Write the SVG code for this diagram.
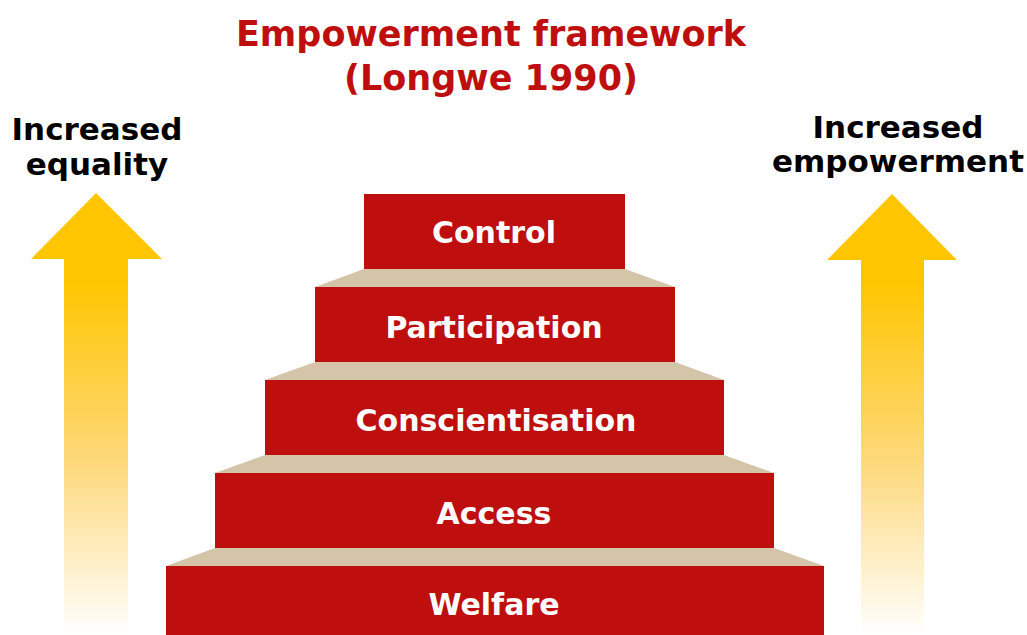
<svg xmlns="http://www.w3.org/2000/svg" width="1027" height="635" viewBox="0 0 1027 635">
<defs>
<linearGradient id="ag" x1="0" y1="0" x2="0" y2="1">
<stop offset="0" stop-color="#FFC600"/>
<stop offset="0.2" stop-color="#FFC600"/>
<stop offset="0.6" stop-color="#FDD878"/>
<stop offset="1" stop-color="#FFFFFF"/>
</linearGradient>
<style>
text{font-family:"DejaVu Sans","Verdana",sans-serif;font-weight:bold;text-anchor:middle}
.step{fill:#BE0E0E}
.tread{fill:#D4C4A8}
.lbl{fill:#FFFFFF;font-size:30px}
.side{fill:#000000;font-size:31px}
.title{fill:#BE0E0E;font-size:35px}
</style>
</defs>
<rect width="1027" height="635" fill="#FFFFFF"/>
<g id="title">
<text class="title" x="491" y="46">Empowerment framework</text>
<text class="title" x="491" y="90">(Longwe 1990)</text>
</g>
<g id="arrow-left">
<path d="M96,193 L162,259 L128,259 L128,635 L64,635 L64,259 L31,259 Z" fill="url(#ag)"/>
<text class="side" x="97" y="140">Increased</text>
<text class="side" x="97" y="175">equality</text>
</g>
<g id="arrow-right">
<path d="M892,194 L957,260 L924,260 L924,635 L861,635 L861,260 L827,260 Z" fill="url(#ag)"/>
<text class="side" x="898" y="138">Increased</text>
<text class="side" x="898" y="172">empowerment</text>
</g>
<g id="treads">
<polygon class="tread" points="364,269 625,269 675,287 315,287"/>
<polygon class="tread" points="315,362 675,362 724,380 265,380"/>
<polygon class="tread" points="265,455 724,455 774,473 215,473"/>
<polygon class="tread" points="215,548 774,548 824,566 166,566"/>
</g>
<g id="control">
<rect class="step" x="364" y="194" width="261" height="75"/>
<text class="lbl" x="494" y="243">Control</text>
</g>
<g id="participation">
<rect class="step" x="315" y="287" width="360" height="75"/>
<text class="lbl" x="494" y="338">Participation</text>
</g>
<g id="conscientisation">
<rect class="step" x="265" y="380" width="459" height="75"/>
<text class="lbl" x="496" y="431">Conscientisation</text>
</g>
<g id="access">
<rect class="step" x="215" y="473" width="559" height="75"/>
<text class="lbl" x="494" y="524">Access</text>
</g>
<g id="welfare">
<rect class="step" x="166" y="566" width="658" height="69"/>
<text class="lbl" x="494" y="615">Welfare</text>
</g>
</svg>
